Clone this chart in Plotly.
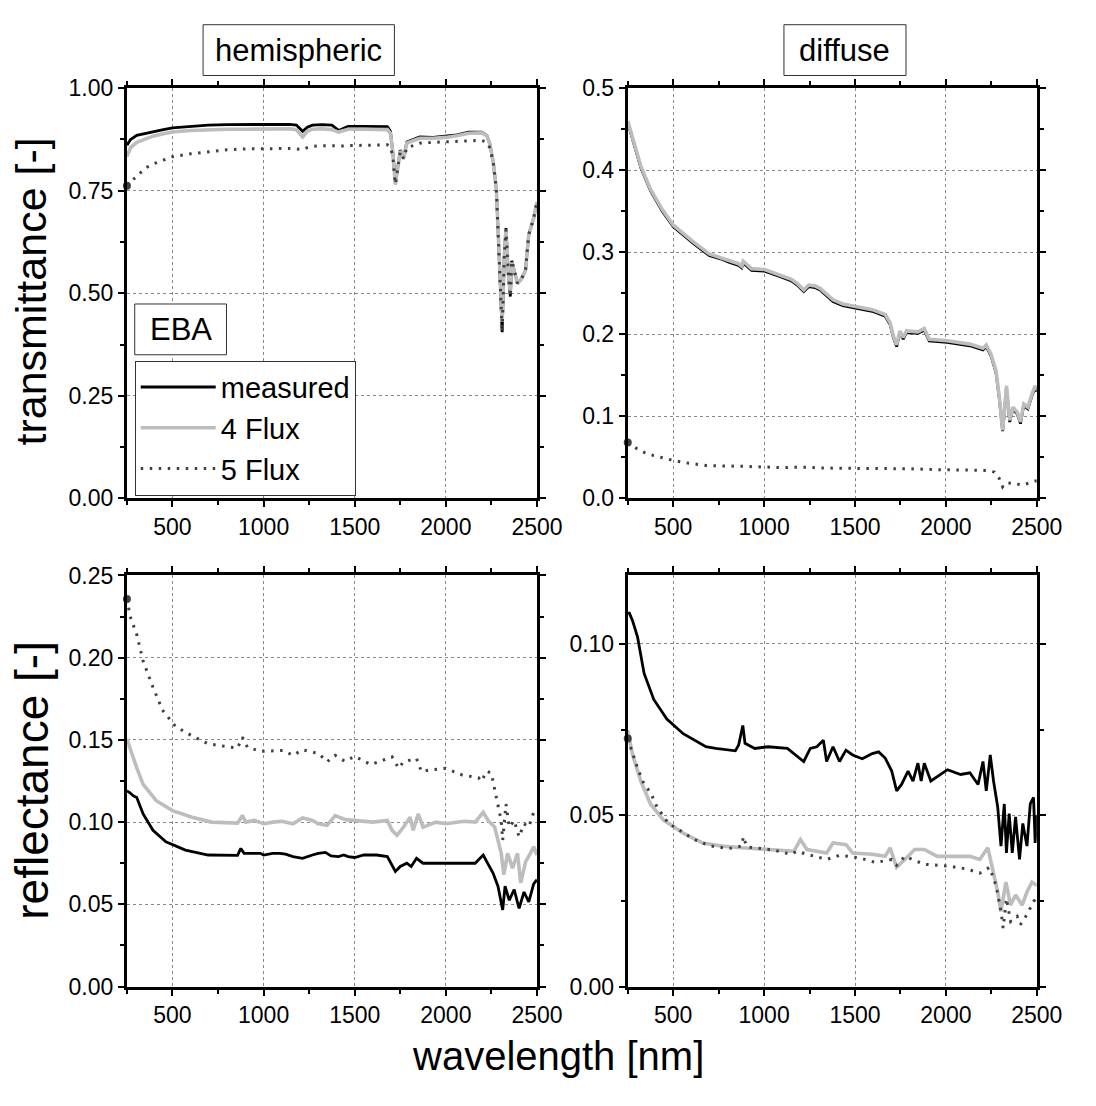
import plotly.graph_objects as go

# ---------------- data ----------------
# top-left: hemispheric transmittance
TL_wl = [250,270,304,350,393,450,500,600,696,800,900,1000,1143,1180,1214,1240,1268,1320,1375,1411,
         1440,1464,1550,1679,1696,1710,1723,1735,1750,1768,1786,1820,1857,1930,2000,2060,2125,2196,2225,2241,
         2260,2277,2295,2309,2321,2330,2343,2354,2362,2375,2393,2415,2437,2455,2482,2500]
TL_meas = [0.861,0.875,0.885,0.890,0.894,0.899,0.903,0.907,0.910,0.911,0.911,0.912,0.912,0.910,0.895,0.905,0.910,0.911,0.910,0.897,
           0.903,0.907,0.907,0.906,0.895,0.84,0.766,0.80,0.849,0.830,0.869,0.875,0.881,0.880,0.883,0.886,0.893,0.893,0.885,0.865,
           0.82,0.754,0.563,0.405,0.595,0.659,0.548,0.492,0.579,0.556,0.524,0.535,0.556,0.643,0.683,0.722]
TL_4f = [0.833,0.855,0.868,0.877,0.883,0.889,0.893,0.897,0.899,0.900,0.900,0.901,0.901,0.899,0.881,0.895,0.900,0.901,0.899,0.893,
         0.898,0.900,0.900,0.899,0.890,0.838,0.766,0.80,0.847,0.829,0.866,0.872,0.878,0.878,0.880,0.884,0.890,0.891,0.884,0.864,
         0.82,0.754,0.560,0.43,0.595,0.655,0.550,0.50,0.575,0.556,0.524,0.535,0.556,0.643,0.683,0.722]
TL_5f = [0.762,0.772,0.785,0.805,0.815,0.825,0.833,0.840,0.845,0.850,0.852,0.853,0.853,0.852,0.850,0.855,0.858,0.860,0.859,0.858,
         0.859,0.860,0.861,0.862,0.858,0.83,0.766,0.80,0.845,0.828,0.855,0.860,0.866,0.868,0.869,0.870,0.872,0.873,0.868,0.855,
         0.82,0.754,0.560,0.405,0.595,0.655,0.548,0.492,0.579,0.556,0.524,0.535,0.556,0.643,0.683,0.722]

# top-right: diffuse transmittance
TR_wl = [250,290,322,375,440,501,560,609,698,760,806,860,877,885,931,1003,1093,1150,1182,1218,
         1245,1280,1308,1330,1379,1433,1505,1595,1666,1693,1711,1729,1747,1765,1783,1846,1881,1908,2007,2132,
         2204,2222,2249,2276,2294,2312,2322,2333,2351,2369,2392,2410,2428,2451,2473,2491,2500]
TR_meas = [0.458,0.426,0.403,0.375,0.350,0.331,0.320,0.311,0.296,0.292,0.288,0.284,0.281,0.287,0.278,0.277,0.270,0.265,0.260,0.252,
           0.258,0.257,0.254,0.250,0.240,0.235,0.232,0.228,0.222,0.212,0.196,0.185,0.202,0.194,0.202,0.201,0.205,0.192,0.190,0.186,
           0.181,0.185,0.173,0.153,0.121,0.082,0.105,0.135,0.093,0.109,0.103,0.091,0.113,0.109,0.125,0.135,0.130]
TR_4f = [0.460,0.428,0.405,0.377,0.352,0.333,0.322,0.313,0.298,0.294,0.290,0.286,0.283,0.289,0.280,0.279,0.272,0.267,0.262,0.254,
         0.260,0.259,0.256,0.252,0.242,0.237,0.234,0.230,0.224,0.214,0.198,0.187,0.204,0.196,0.204,0.203,0.207,0.194,0.192,0.188,
         0.183,0.187,0.175,0.155,0.123,0.083,0.107,0.137,0.095,0.111,0.105,0.093,0.115,0.111,0.127,0.137,0.132]
TR5_wl = [250,304,340,393,450,501,580,680,877,1100,1236,1300,1505,1702,1800,1953,2100,2222,2267,2294,
          2312,2330,2383,2419,2491,2500]
TR_5f = [0.068,0.060,0.056,0.052,0.049,0.046,0.043,0.040,0.039,0.0375,0.038,0.037,0.0365,0.0365,0.036,0.035,0.0345,0.034,0.032,0.024,
         0.014,0.019,0.018,0.016,0.021,0.021]

# bottom-left: hemispheric reflectance
BLm_wl = [250,265,285,304,339,393,464,571,696,857,875,893,982,1000,1050,1090,1120,1161,1214,1250,
          1268,1300,1339,1370,1411,1440,1464,1500,1550,1589,1620,1679,1723,1750,1786,1810,1839,1875,1929,2036,
          2161,2205,2232,2259,2286,2312,2325,2348,2375,2402,2429,2455,2482,2500]
BL_meas = [0.119,0.118,0.116,0.115,0.105,0.095,0.088,0.083,0.080,0.0798,0.084,0.081,0.081,0.080,0.081,0.081,0.0805,0.079,0.078,0.0795,
           0.080,0.081,0.0816,0.0795,0.079,0.080,0.079,0.0785,0.080,0.080,0.080,0.079,0.070,0.073,0.075,0.073,0.078,0.075,0.075,0.075,
           0.075,0.080,0.074,0.069,0.061,0.0466,0.061,0.0525,0.059,0.0475,0.0575,0.0515,0.0624,0.065]
BL4_wl = [250,280,304,339,411,500,607,714,857,884,902,950,1000,1054,1100,1161,1214,1268,1300,1348,
          1393,1450,1500,1550,1600,1679,1705,1732,1768,1804,1821,1848,1875,1946,2000,2100,2161,2205,2232,2268,
          2304,2318,2339,2366,2393,2411,2438,2464,2482,2500]
BL_4f = [0.1505,0.140,0.133,0.123,0.113,0.107,0.103,0.100,0.0994,0.104,0.100,0.101,0.099,0.100,0.1005,0.099,0.1026,0.101,0.099,0.098,
         0.104,0.1015,0.101,0.100,0.100,0.101,0.095,0.092,0.097,0.103,0.095,0.105,0.097,0.100,0.099,0.1005,0.100,0.106,0.101,0.097,
         0.081,0.068,0.081,0.072,0.081,0.063,0.076,0.081,0.085,0.080]
BL5_wl = [250,268,304,339,393,446,518,607,696,857,884,911,982,1107,1161,1214,1304,1348,1393,1446,
          1500,1589,1705,1741,1768,1839,1866,1911,2000,2089,2179,2196,2223,2250,2277,2304,2312,2330,2348,2375,
          2402,2429,2455,2482,2500]
BL_5f = [0.2357,0.225,0.214,0.198,0.182,0.168,0.158,0.1525,0.1476,0.145,0.1516,0.1456,0.143,0.1436,0.1406,0.144,0.1416,0.1367,0.1406,0.137,
         0.140,0.135,0.1397,0.1327,0.1367,0.1387,0.1307,0.1317,0.1327,0.1287,0.127,0.1248,0.131,0.1297,0.115,0.101,0.089,0.111,0.097,0.101,
         0.091,0.099,0.097,0.106,0.107]

# bottom-right: diffuse reflectance
BRm_wl = [250,259,277,304,340,393,465,555,680,734,842,860,883,895,949,1021,1128,1164,1218,1254,
          1290,1326,1344,1379,1415,1450,1487,1540,1595,1630,1666,1702,1729,1756,1792,1819,1846,1864,1881,1917,
          2009,2081,2132,2177,2204,2222,2244,2262,2285,2303,2321,2333,2348,2365,2383,2405,2423,2446,2464,2482,
          2491,2500]
BR_meas = [0.109,0.109,0.1067,0.102,0.0914,0.0838,0.0781,0.0738,0.070,0.0695,0.0688,0.0705,0.0762,0.071,0.0695,0.070,0.0695,0.068,0.0657,0.0695,
           0.070,0.0719,0.0657,0.070,0.0657,0.069,0.0676,0.0665,0.068,0.0685,0.0667,0.0629,0.0571,0.059,0.0629,0.060,0.0652,0.060,0.0652,0.060,
           0.0633,0.0619,0.0624,0.059,0.0657,0.0571,0.0676,0.060,0.0524,0.041,0.0533,0.039,0.0505,0.039,0.0495,0.0371,0.0476,0.041,0.0533,0.0552,
           0.0419,0.050]
BR4_wl = [250,277,322,375,447,555,662,770,877,1057,1164,1200,1236,1344,1379,1451,1487,1595,1666,1693,
          1729,1774,1828,1881,1953,2132,2186,2231,2258,2285,2303,2330,2356,2383,2419,2446,2473,2500]
BR_4f = [0.0748,0.0676,0.060,0.0533,0.0486,0.0448,0.0419,0.041,0.0405,0.040,0.0395,0.0429,0.040,0.039,0.0419,0.0414,0.039,0.0386,0.038,0.0405,
         0.0348,0.0371,0.040,0.040,0.038,0.038,0.0371,0.0405,0.0343,0.0276,0.0219,0.0305,0.0238,0.0267,0.0238,0.0276,0.0305,0.0295]
BR5_wl = [250,268,304,340,375,411,474,519,609,698,806,877,886,904,1057,1146,1182,1236,1344,1415,
          1523,1613,1702,1729,1774,1881,2009,2117,2186,2240,2276,2303,2315,2333,2356,2392,2410,2446,2482,2500]
BR_5f = [0.0724,0.0695,0.0638,0.059,0.0567,0.0524,0.0476,0.0462,0.0431,0.0411,0.0403,0.041,0.0438,0.0408,0.0398,0.0386,0.0395,0.0386,0.0371,0.0383,
         0.0376,0.0362,0.0371,0.0354,0.038,0.0357,0.0352,0.0343,0.0331,0.0348,0.0295,0.0219,0.0171,0.0257,0.019,0.0205,0.0181,0.021,0.0248,0.026]

series_names = ["measured", "4 Flux", "5 Flux"]
x_ticks = [500, 1000, 1500, 2000, 2500]

# ---------------- styling ----------------
W, H = 1096, 1106
FONT = "Liberation Sans, Arial, sans-serif"
C_MEAS, C_4F, C_5F = "#000000", "#bdbdbd", "#404040"

def px(x): return x / W
def py(y): return 1 - y / H

fig = go.Figure()

panels = [
    ("x", "y", [(TL_wl, TL_meas), (TL_wl, TL_4f), (TL_wl, TL_5f)], True),
    ("x2", "y2", [(TR_wl, TR_meas), (TR_wl, TR_4f), (TR5_wl, TR_5f)], False),
    ("x3", "y3", [(BLm_wl, BL_meas), (BL4_wl, BL_4f), (BL5_wl, BL_5f)], False),
    ("x4", "y4", [(BRm_wl, BR_meas), (BR4_wl, BR_4f), (BR5_wl, BR_5f)], False),
]
styles = [
    dict(color=C_MEAS, width=2.8),
    dict(color=C_4F, width=3.6),
    dict(color=C_5F, width=3, dash="2.5px,6.5px"),
]
for xa, ya, series, show in panels:
    for (xs, ys), name, st in zip(series, series_names, styles):
        fig.add_trace(go.Scatter(x=xs, y=ys, mode="lines", name=name, line=st,
                                 xaxis=xa, yaxis=ya, showlegend=show, legendgroup=name))
    xs5, ys5 = series[2]
    fig.add_trace(go.Scatter(x=[xs5[0]], y=[ys5[0]], mode="markers",
                             marker=dict(color=C_5F, size=8), cliponaxis=False,
                             xaxis=xa, yaxis=ya, showlegend=False, hoverinfo="skip"))

col_x = [(130, 550), (643, 1062)]
row_y = [(77, 497), (576, 997)]
TICKFONT = dict(family=FONT, size=23, color="black")

def xaxis_cfg(col, anchor):
    x0, x1 = col_x[col]
    return dict(domain=[px(x0), px(x1)], range=[250, 2500], anchor=anchor,
                tickvals=x_ticks, ticktext=[str(v) for v in x_ticks],
                ticks="outside", ticklen=6, tickwidth=2, tickcolor="black",
                minor=dict(dtick=250, tick0=250, ticks="outside", ticklen=4, tickwidth=2,
                           tickcolor="black", showgrid=False),
                showline=True, linewidth=3, linecolor="black", mirror="allticks",
                showgrid=True, gridcolor="#8a8a8a", gridwidth=1, griddash="dot",
                zeroline=False, tickfont=TICKFONT)

def yaxis_cfg(row, anchor, rng, dtick, fmt, minor):
    y0, y1 = row_y[row]
    return dict(domain=[py(y1), py(y0)], range=rng, anchor=anchor,
                dtick=dtick, tick0=0, tickformat=fmt,
                ticks="outside", ticklen=6, tickwidth=2, tickcolor="black",
                minor=dict(dtick=minor, tick0=0, ticks="outside", ticklen=4, tickwidth=2,
                           tickcolor="black", showgrid=False),
                showline=True, linewidth=3, linecolor="black", mirror="allticks",
                showgrid=True, gridcolor="#8a8a8a", gridwidth=1, griddash="dot",
                zeroline=False, tickfont=TICKFONT)

fig.update_layout(
    xaxis=xaxis_cfg(0, "y"),
    yaxis=yaxis_cfg(0, "x", [0, 1.0], 0.25, ".2f", 0.125),
    xaxis2=xaxis_cfg(1, "y2"),
    yaxis2=yaxis_cfg(0, "x2", [0, 0.5], 0.1, ".1f", 0.05),
    xaxis3=xaxis_cfg(0, "y3"),
    yaxis3=yaxis_cfg(1, "x3", [0, 0.25], 0.05, ".2f", 0.025),
    xaxis4=xaxis_cfg(1, "y4"),
    yaxis4=yaxis_cfg(1, "x4", [0, 0.12], 0.05, ".2f", 0.025),
)

shapes = []
annotations = []

def box(x0, y0, x1, y1, text, size):
    shapes.append(dict(type="rect", xref="paper", yref="paper",
                       x0=px(x0), x1=px(x1), y0=py(y1), y1=py(y0),
                       line=dict(color="#333333", width=1), fillcolor="white", layer="above"))
    annotations.append(dict(text=text, xref="paper", yref="paper",
                            x=px((x0 + x1) / 2), y=py((y0 + y1) / 2),
                            xanchor="center", yanchor="middle", showarrow=False,
                            font=dict(family=FONT, size=size, color="black")))

box(208, 12, 404, 64, "hemispheric", 31)
box(803, 12, 928, 64, "diffuse", 31)
box(138, 298, 232, 350, "EBA", 31)

annotations.append(dict(text="transmittance [-]", xref="paper", yref="paper",
                        x=px(32), y=py(285), textangle=-90, showarrow=False,
                        xanchor="center", yanchor="middle",
                        font=dict(family=FONT, size=43, color="black")))
annotations.append(dict(text="reflectance [-]", xref="paper", yref="paper",
                        x=px(32), y=py(786), textangle=-90, showarrow=False,
                        xanchor="center", yanchor="middle",
                        font=dict(family=FONT, size=46, color="black")))
annotations.append(dict(text="wavelength [nm]", xref="paper", yref="paper",
                        x=px(572), y=py(1068), showarrow=False,
                        xanchor="center", yanchor="middle",
                        font=dict(family=FONT, size=40, color="black")))

fig.update_layout(
    width=W, height=H, margin=dict(l=0, r=0, t=0, b=0),
    paper_bgcolor="white", plot_bgcolor="white",
    shapes=shapes, annotations=annotations,
    showlegend=True,
    legend=dict(x=px(138), y=py(356), xanchor="left", yanchor="top",
                bgcolor="white", bordercolor="#333333", borderwidth=1,
                font=dict(family=FONT, size=29, color="black"),
                itemwidth=75, tracegroupgap=0),
    font=dict(family=FONT),
)

fig.write_html("out.html")
